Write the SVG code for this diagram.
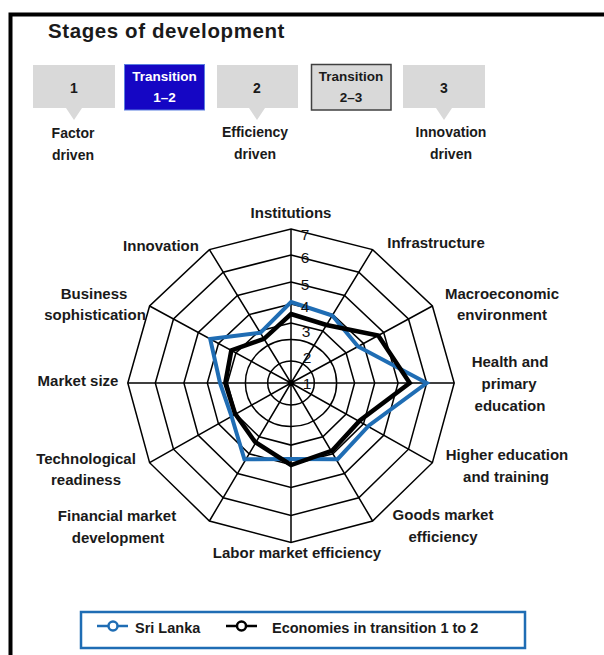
<svg xmlns="http://www.w3.org/2000/svg" width="604" height="655" viewBox="0 0 604 655">
<style>
text{font-family:"Liberation Sans",Arial,sans-serif;font-weight:bold;fill:#1a1a1a}
.lbl{font-size:15px;text-anchor:middle}
.stg{font-size:14px;text-anchor:middle}
.box{font-size:14px;text-anchor:middle}
.num{font-size:15.5px;font-weight:normal;text-anchor:middle;fill:#111}
.grid{fill:none;stroke:#000;stroke-width:1.5}
.gray{fill:#d9d9d9}
.ser{fill:none;stroke-linejoin:miter}
</style>
<rect width="604" height="655" fill="#fff"/>
<path d="M10.5 660 V14.5 H610" fill="none" stroke="#000" stroke-width="4"/>
<text x="48" y="38" style="font-size:20.5px;letter-spacing:0.6px">Stages of development</text>

<g id="stage1"><path class="gray" d="M33 65 H115 V108 H82 L74 120 L66 108 H33 Z"/><text class="box" x="74" y="93">1</text></g>
<g id="trans12"><rect x="124.5" y="64.5" width="80" height="45.5" fill="#1506c4" stroke="#5b7fe0" stroke-width="1"/><text class="box" x="164.5" y="81" style="fill:#fff;font-size:13.5px">Transition</text><text class="box" x="164.5" y="102" style="fill:#fff;font-size:13.5px">1–2</text></g>
<g id="stage2"><path class="gray" d="M217 65 H298 V108 H265 L257 120 L249 108 H217 Z"/><text class="box" x="257" y="93">2</text></g>
<g id="trans23"><rect x="311.5" y="64.5" width="79.5" height="45.5" fill="#d9d9d9" stroke="#404040" stroke-width="1.5"/><text class="box" x="351" y="81" style="font-size:13.5px">Transition</text><text class="box" x="351" y="102" style="font-size:13.5px">2–3</text></g>
<g id="stage3"><path class="gray" d="M403 65 H485 V108 H452 L444 120 L436 108 H403 Z"/><text class="box" x="444" y="93">3</text></g>

<g id="stage-labels">
<text class="stg" x="73" y="138">Factor</text><text class="stg" x="73" y="160">driven</text>
<text class="stg" x="255" y="137">Efficiency</text><text class="stg" x="255" y="159">driven</text>
<text class="stg" x="451" y="137">Innovation</text><text class="stg" x="451" y="159">driven</text>
</g>

<g id="grid">
<ellipse class="grid" cx="291" cy="383" rx="23.3" ry="22"/>
<ellipse class="grid" cx="291" cy="383" rx="45.6" ry="43.5"/>
<polygon class="grid" points="291,323 322.8,331 346.1,353 354.6,383 346.1,414.05 322.8,436.8 291,445.1 259.2,436.8 235.9,414.05 227.4,383 235.9,353 259.2,331"/>
<polygon class="grid" points="291,304 332.9,314.6 363.5,343.5 374.7,383 363.5,423.9 332.9,453.8 291,464.8 249.1,453.8 218.5,423.9 207.3,383 218.5,343.5 249.1,314.6"/>
<polygon class="grid" points="291,282 344.5,295.5 383.7,332.5 398.1,383 383.7,435.3 344.5,473.5 291,487.5 237.5,473.5 198.3,435.3 183.9,383 198.3,332.5 237.5,295.5"/>
<polygon class="grid" points="291,255 358.8,272.2 408.5,319 426.7,383 408.5,449.2 358.8,497.7 291,515.5 223.2,497.7 173.5,449.2 155.3,383 173.5,319 223.2,272.2"/>
<polygon class="grid" points="291,229 372.6,249.6 432.4,306 454.2,383 432.4,462.7 372.6,521 291,542.4 209.4,521 149.6,462.7 127.8,383 149.6,306 209.4,249.6"/>
<path class="grid" d="M291 383 L291 229 M291 383 L372.6 249.6 M291 383 L432.4 306 M291 383 L454.2 383 M291 383 L432.4 462.7 M291 383 L372.6 521 M291 383 L291 542.4 M291 383 L209.4 521 M291 383 L149.6 462.7 M291 383 L127.8 383 M291 383 L149.6 306 M291 383 L209.4 249.6"/>
</g>

<g id="connectors">
<polygon id="sri-lanka" class="ser" stroke="#1f6db4" stroke-width="4" points="291,302 332.3,315.5 358,346.5 426.7,383 369,425.5 337.6,459.2 291,459 244.4,459.2 231.3,415.5 220,383 210.2,339 260.3,332.8"/>
<polygon id="transition" class="ser" stroke="#000" stroke-width="4.5" points="291,314 326.5,325 378.2,335.5 409.7,383 359.9,420.5 332.3,450.5 291,465 255,441.9 235,413.5 225.3,383 231.3,350.5 264,338.8"/>
</g>

<g id="scale">
<text class="num" x="305" y="240">7</text>
<text class="num" x="305" y="263">6</text>
<text class="num" x="305" y="290">5</text>
<text class="num" x="305" y="312">4</text>
<text class="num" x="306" y="337">3</text>
<text class="num" x="307" y="363">2</text>
<text class="num" x="307" y="389">1</text>
</g>

<g id="axis-labels">
<g id="l-institutions"><text class="lbl" x="291" y="218">Institutions</text></g>
<g id="l-infrastructure"><text class="lbl" x="436" y="248">Infrastructure</text></g>
<g id="l-macro"><text class="lbl" x="502" y="299">Macroeconomic</text><text class="lbl" x="502" y="320">environment</text></g>
<g id="l-health"><text class="lbl" x="510" y="367">Health and</text><text class="lbl" x="509" y="389">primary</text><text class="lbl" x="510" y="411">education</text></g>
<g id="l-higher"><text class="lbl" x="507" y="460">Higher education</text><text class="lbl" x="506" y="482">and training</text></g>
<g id="l-goods"><text class="lbl" x="443" y="520">Goods market</text><text class="lbl" x="443" y="542">efficiency</text></g>
<g id="l-labor"><text class="lbl" x="297" y="558">Labor market efficiency</text></g>
<g id="l-financial"><text class="lbl" x="117" y="521">Financial market</text><text class="lbl" x="118" y="543">development</text></g>
<g id="l-tech"><text class="lbl" x="86" y="464">Technological</text><text class="lbl" x="86" y="485">readiness</text></g>
<g id="l-market"><text class="lbl" x="78" y="386">Market size</text></g>
<g id="l-business"><text class="lbl" x="94" y="299">Business</text><text class="lbl" x="95" y="320">sophistication</text></g>
<g id="l-innovation"><text class="lbl" x="161" y="251">Innovation</text></g>
</g>

<g id="legend">
<rect x="81" y="612" width="444" height="36" fill="#fff" stroke="#1f6db4" stroke-width="2.5"/>
<line x1="97" y1="626" x2="128" y2="626" stroke="#1f6db4" stroke-width="2.5"/>
<circle cx="113" cy="626" r="4.5" fill="#fff" stroke="#1f6db4" stroke-width="2.5"/>
<text x="135" y="633" style="font-size:14.5px">Sri Lanka</text>
<line x1="226" y1="626" x2="257" y2="626" stroke="#000" stroke-width="2.5"/>
<circle cx="241.5" cy="626" r="4.5" fill="#fff" stroke="#000" stroke-width="2.5"/>
<text x="272" y="633" style="font-size:14.5px">Economies in transition 1 to 2</text>
</g>
</svg>
